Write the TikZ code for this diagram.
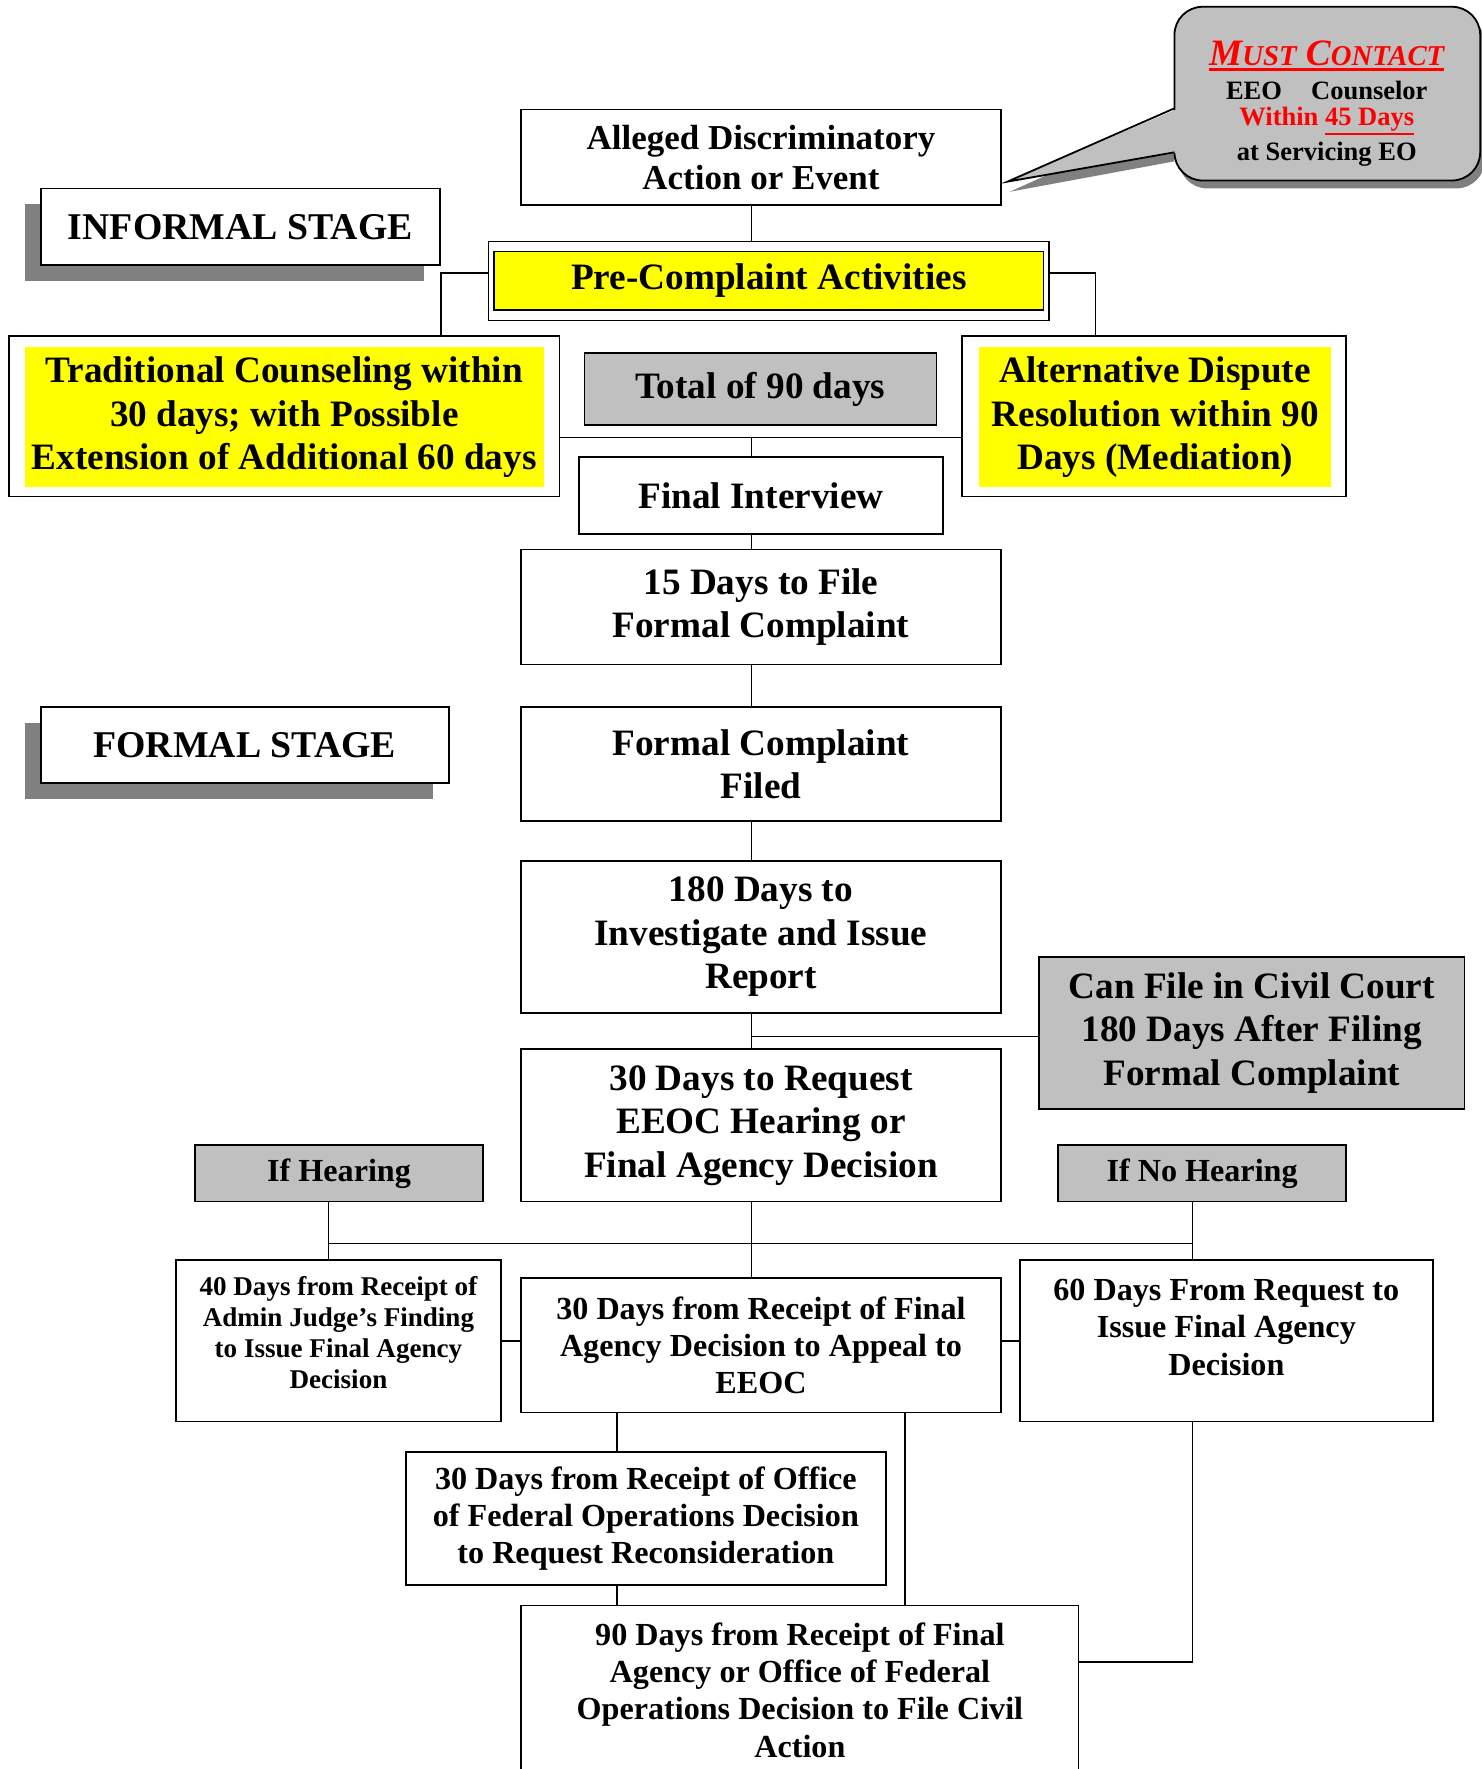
\documentclass[tikz,border=0pt]{standalone}
\usepackage{fontspec}
\setmainfont{Liberation Serif}
\usetikzlibrary{positioning,shadows}
\definecolor{hiyellow}{HTML}{FFFF00}
\definecolor{callgray}{HTML}{C0C0C0}
\definecolor{shadowgray}{HTML}{808080}
\newcommand\bigtxt{\bfseries\fontsize{33}{38.5}\selectfont}
\newcommand\toptxt{\bfseries\fontsize{31}{35}\selectfont}
\newcommand\stagetxt{\bfseries\fontsize{33.5}{38}\selectfont}
\newcommand\hdtxt{\bfseries\fontsize{28.5}{32}\selectfont}
\newcommand\midtxt{\bfseries\fontsize{28.5}{33}\selectfont}
\newcommand\smalltxt{\bfseries\fontsize{24}{27.5}\selectfont}
\newcommand\calltxt{\bfseries\fontsize{23.5}{25}\selectfont}
\newcommand\scx[1]{{\fontsize{25.5}{30}\selectfont #1}}
\newcommand\redline[2]{\leavevmode\vtop{\hbox{#2}\kern1.5pt\hrule height #1}}
\tikzset{
  box/.style={draw, line width=1.6pt, fill=white, align=center, inner sep=0pt, font=\bigtxt},
  yellowpad/.style={fill=hiyellow, align=center, inner sep=0pt, font=\bigtxt},
  graybox/.style={box, fill=callgray},
  stage/.style={box, font=\stagetxt, drop shadow={shadow xshift=-14pt, shadow yshift=-14pt, fill=shadowgray, opacity=1}},
  callout/.style={draw, line width=1.6pt, fill=callgray, rounded corners=25pt,
                  drop shadow={shadow xshift=4pt, shadow yshift=-7pt, fill=shadowgray, opacity=1}},
  link/.style={draw, line width=1.3pt},
}
\begin{document}
\begin{tikzpicture}[x=1pt, y=-1pt]
  \useasboundingbox (0,0) rectangle (1313,1568);
  \coordinate (spine) at (666,0);
  \coordinate (lx) at (547,0);
  \coordinate (rx) at (802,0);
  \coordinate (hx) at (291,0);
  \coordinate (nx) at (1057,0);
  \coordinate (bar) at (0,1102);

  % callout
  \fill[shadowgray] (1041,104) -- (895,170) -- (1041,143) -- cycle;
  \node[callout, minimum width=271, minimum height=154] (callout) at (1176.5,83) {};
  \fill[callgray] (1045,96) -- (893,161) -- (1045,135) -- cycle;
  \draw[line width=1.6pt] (1041,96) -- (893,161) -- (1041,135);
  \node[align=center, font=\calltxt] (calltext) at (1176,92)
    {{\color{red}\itshape\fontsize{33}{33}\selectfont\redline{2.8pt}{M\scx{UST} C\scx{ONTACT}}}\\[5pt]
     EEO\hspace{1.1em}Counselor\\[-2pt]
     {\color{red}Within \redline{2pt}{45 Days}}\\[6pt]
     at Servicing EO};

  % informal stage
  \node[box, font=\toptxt, minimum width=425, minimum height=85] (alleged) at (674.5,139.5) {Alleged Discriminatory\\Action or Event};
  \node[stage, minimum width=354, minimum height=68] (informal) at (213,201) {INFORMAL STAGE};
  \node[box, minimum width=497, minimum height=70] (precomp) at (681.5,249) {};
  \node[box, fill=hiyellow, minimum width=487, minimum height=52] (precompin) at (681.5,249) {Pre-Complaint Activities};
  \node[box, minimum width=488, minimum height=142] (trad) at (252,369) {};
  \node[yellowpad, minimum width=460, minimum height=124] (tradin) at (252,370) {Traditional Counseling within\\30 days; with Possible\\Extension of Additional 60 days};
  \node[graybox, minimum width=312, minimum height=64] (total) at (674,345) {Total of 90 days};
  \node[box, minimum width=340, minimum height=142] (adr) at (1023,369) {};
  \node[yellowpad, minimum width=312, minimum height=124] (adrin) at (1024,370) {Alternative Dispute\\Resolution within 90\\Days (Mediation)};
  \node[box, minimum width=323, minimum height=68] (finalint) at (674.5,439) {Final Interview};
  \node[box, minimum width=425, minimum height=102] (fifteen) at (674.5,538) {15 Days to File\\Formal Complaint};

  % formal stage
  \node[stage, minimum width=362, minimum height=67] (formal) at (217,660.5) {FORMAL STAGE};
  \node[box, minimum width=425, minimum height=101] (filed) at (674.5,677.5) {Formal Complaint\\Filed};
  \node[box, minimum width=425, minimum height=135] (investigate) at (674.5,830.5) {180 Days to\\Investigate and Issue\\Report};
  \node[graybox, minimum width=377, minimum height=135] (civil) at (1109.5,915.5) {Can File in Civil Court\\180 Days After Filing\\Formal Complaint};
  \node[box, minimum width=425, minimum height=135] (request) at (674.5,997.5) {30 Days to Request\\EEOC Hearing or\\Final Agency Decision};
  \node[graybox, font=\hdtxt, minimum width=255, minimum height=50] (ifhear) at (300.5,1040) {If Hearing};
  \node[graybox, font=\hdtxt, minimum width=255, minimum height=50] (ifnohear) at (1065.5,1040) {If No Hearing};
  \node[box, minimum width=288, minimum height=143,
        label={[yshift=7pt, font=\smalltxt, align=center]center:40 Days from Receipt of\\Admin Judge’s Finding\\to Issue Final Agency\\Decision}] (judge) at (300,1188.5) {};
  \node[box, font=\midtxt, minimum width=425, minimum height=119] (appeal) at (674.5,1192.5) {30 Days from Receipt of Final\\Agency Decision to Appeal to\\EEOC};
  \node[box, minimum width=366, minimum height=143,
        label={[yshift=12pt, font=\midtxt, align=center]center:60 Days From Request to\\Issue Final Agency\\Decision}] (agency) at (1087,1188.5) {};
  \node[box, font=\midtxt, minimum width=425, minimum height=118] (office) at (572.5,1346) {30 Days from Receipt of Office\\of Federal Operations Decision\\to Request Reconsideration};
  \node[box, font=\midtxt, minimum width=494, minimum height=150] (civilaction) at (709,1498) {90 Days from Receipt of Final\\Agency or Office of Federal\\Operations Decision to File Civil\\Action};

  % connectors
  \path ([yshift=7pt]precomp.west) coordinate (pl);
  \path ([yshift=7pt]precomp.east) coordinate (pr);
  \path ([yshift=-19pt]trad.east) coordinate (tl);
  \path ([yshift=-3pt]civil.west) coordinate (cw);
  \path ([yshift=25pt]civilaction.east) coordinate (cae);
  \draw[link] (alleged.south -| spine) -- (precomp.north -| spine);
  \draw[link] (pl) -| ([xshift=139pt]trad.north);
  \draw[link] (pr) -| ([xshift=-52pt]adr.north);
  \draw[link] (tl) -- (tl -| adr.west);
  \draw[link] (tl -| spine) -- (finalint.north -| spine);
  \draw[link] (finalint.south -| spine) -- (fifteen.north -| spine);
  \draw[link] (fifteen.south -| spine) -- (filed.north -| spine);
  \draw[link] (filed.south -| spine) -- (investigate.north -| spine);
  \draw[link] (investigate.south -| spine) -- (request.north -| spine);
  \draw[link] (cw) -- (cw -| spine);
  \draw[link] (request.south -| spine) -- (appeal.north -| spine);
  \draw[link] (ifhear.south -| hx) -- (judge.north -| hx);
  \draw[link] (ifnohear.south -| nx) -- (agency.north -| nx);
  \draw[link] (bar -| hx) -- (bar -| nx);
  \draw[link] (judge.east) -- (judge.east -| appeal.west);
  \draw[link] (agency.west) -- (agency.west -| appeal.east);
  \draw[link] (appeal.south -| lx) -- (office.north -| lx);
  \draw[link] (office.south -| lx) -- (civilaction.north -| lx);
  \draw[link] (appeal.south -| rx) -- (civilaction.north -| rx);
  \draw[link] (agency.south -| nx) |- (cae);
\end{tikzpicture}
\end{document}
